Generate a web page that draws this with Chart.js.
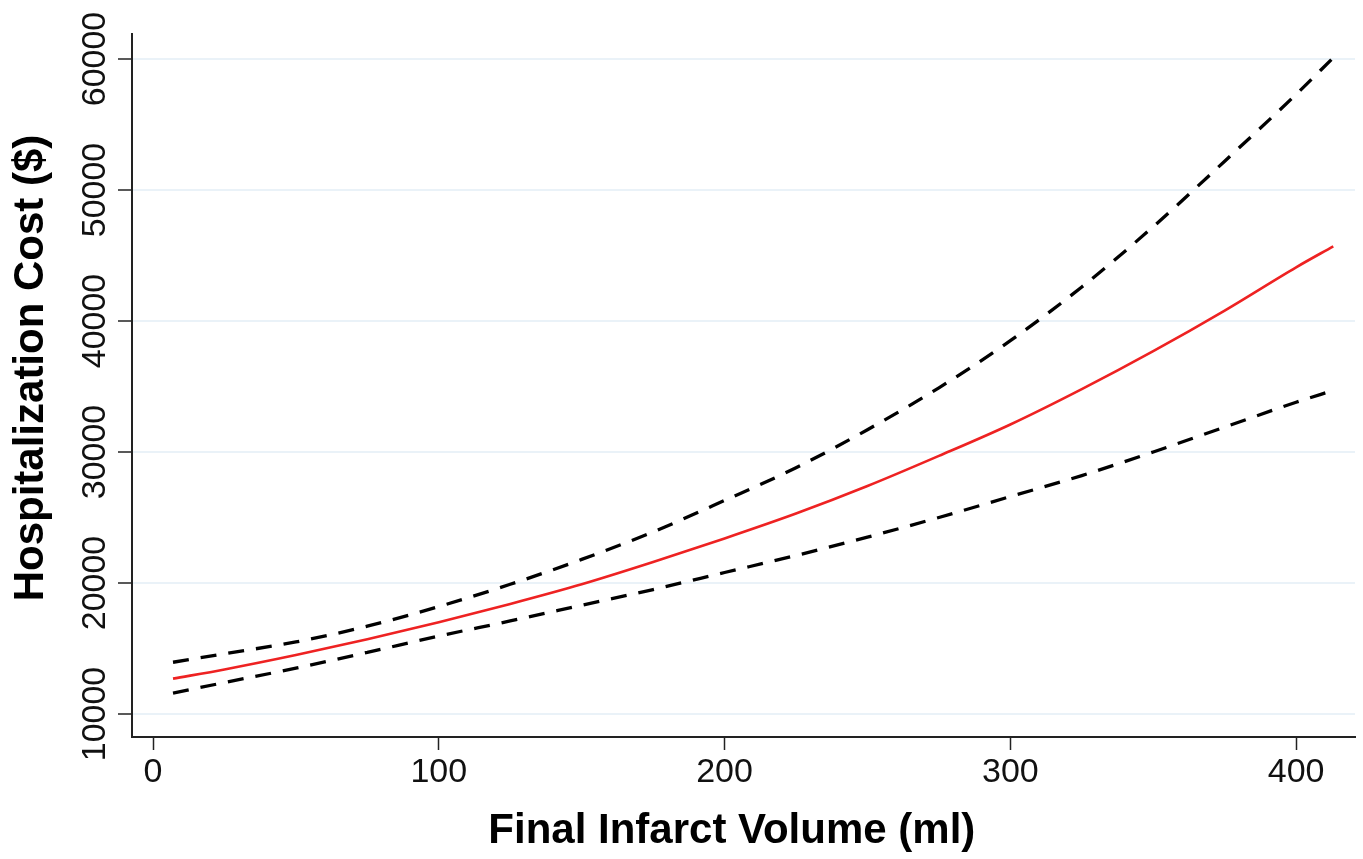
<!DOCTYPE html>
<html>
<head>
<meta charset="utf-8">
<script src="https://cdn.jsdelivr.net/npm/chart.js@4.4.1/dist/chart.umd.min.js"></script>
<style>
  html, body { margin: 0; padding: 0; background: #ffffff; }
  #wrap { position: relative; width: 1363px; height: 859px; }
</style>
</head>
<body>
<div id="wrap"><canvas id="c"></canvas></div>
<script>
// ---- data ----
const volume = [7, 25, 50, 75, 100, 125, 150, 175, 200, 225, 250, 275, 300, 325, 350, 375, 400, 413];
const predictedCost = [12700, 13400, 14500, 15700, 17000, 18400, 19900, 21600, 23400, 25300, 27400, 29700, 32100, 34800, 37700, 40800, 44100, 45700];
const upperCI = [13950, 14600, 15500, 16700, 18200, 19900, 21800, 23900, 26300, 28800, 31700, 34900, 38500, 42600, 47200, 52200, 57300, 60100];
const lowerCI = [11600, 12400, 13500, 14700, 15950, 17100, 18300, 19500, 20800, 22100, 23500, 25000, 26600, 28200, 30000, 31900, 33800, 34700];
const xTickValues = [0, 100, 200, 300, 400];
const yTickValues = [10000, 20000, 30000, 40000, 50000, 60000];
const xTitle = 'Final Infarct Volume (ml)';
const yTitle = 'Hospitalization Cost ($)';

const toPoints = (ys) => volume.map((x, i) => ({ x: x, y: ys[i] }));

const FONT = "'Liberation Sans', Arial, Helvetica, sans-serif";

new Chart(document.getElementById('c'), {
  type: 'line',
  data: {
    datasets: [
      {
        label: 'Upper 95% CI',
        data: toPoints(upperCI),
        borderColor: '#000000',
        borderWidth: 3.3,
        borderDash: [16, 12],
        pointRadius: 0,
        fill: false,
        cubicInterpolationMode: 'monotone'
      },
      {
        label: 'Predicted cost',
        data: toPoints(predictedCost),
        borderColor: '#ee2222',
        borderWidth: 2.6,
        pointRadius: 0,
        fill: false,
        cubicInterpolationMode: 'monotone'
      },
      {
        label: 'Lower 95% CI',
        data: toPoints(lowerCI),
        borderColor: '#000000',
        borderWidth: 3.3,
        borderDash: [16, 12],
        pointRadius: 0,
        fill: false,
        cubicInterpolationMode: 'monotone'
      }
    ]
  },
  options: {
    responsive: true,
    maintainAspectRatio: false,
    animation: false,
    devicePixelRatio: 1,
    layout: { padding: { left: 0, top: 34, right: 8, bottom: 0 } },
    plugins: {
      legend: { display: false },
      tooltip: { enabled: false },
      title: { display: false }
    },
    scales: {
      x: {
        type: 'linear',
        min: -7.35,
        max: 420.6,
        afterBuildTicks: (s) => { s.ticks = xTickValues.map(v => ({ value: v })); },
        afterFit: (s) => { s.height = 122; },
        ticks: {
          color: '#111111',
          font: { family: FONT, size: 34 },
          padding: 2,
          maxRotation: 0,
          autoSkip: false,
          callback: (v) => String(v)
        },
        grid: {
          drawOnChartArea: false,
          drawTicks: true,
          tickLength: 13,
          tickColor: '#222222',
          tickWidth: 1.5
        },
        border: { display: true, color: '#222222', width: 2 },
        title: {
          display: true,
          text: xTitle + '\u00a0\u00a0',
          color: '#000000',
          font: { family: FONT, size: 42, weight: 'bold' },
          padding: { top: 0, bottom: 2 }
        }
      },
      y: {
        type: 'linear',
        min: 8244,
        max: 61908,
        afterBuildTicks: (s) => { s.ticks = yTickValues.map(v => ({ value: v })); },
        afterFit: (s) => { s.width = 132; },
        ticks: {
          color: '#111111',
          font: { family: FONT, size: 34 },
          minRotation: 90,
          maxRotation: 90,
          crossAlign: 'center',
          padding: -25,
          autoSkip: false,
          callback: (v) => String(v)
        },
        grid: {
          color: '#eaf2f8',
          lineWidth: 2,
          drawTicks: true,
          tickLength: 14,
          tickColor: '#222222',
          tickWidth: 1.5
        },
        border: { display: true, color: '#222222', width: 2 },
        title: {
          display: true,
          text: '\u00a0\u00a0\u00a0' + yTitle,
          color: '#000000',
          font: { family: FONT, size: 42, weight: 'bold' },
          padding: { top: 6, bottom: 0 }
        }
      }
    }
  }
});
</script>
</body>
</html>
